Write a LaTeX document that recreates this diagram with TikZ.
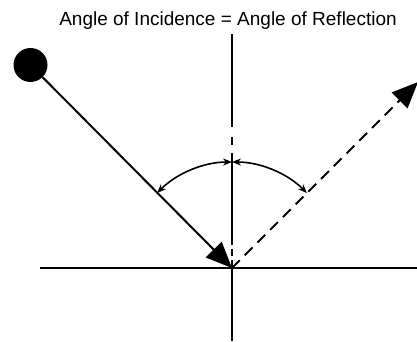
\documentclass[tikz,border=0pt]{standalone}
\usepackage{fontspec}
\setmainfont{Liberation Sans}
\usepackage{tikz}
\usetikzlibrary{arrows.meta,calc}

\begin{document}
\begin{tikzpicture}[x=1pt, y=1pt,
  ray/.style={line width=2pt},
  raydash/.style={line width=2pt, dash pattern=on 11pt off 7pt},
  bigtip/.style={-{Triangle[length=26pt, width=22pt]}},
  anglearc/.style={line width=1.6pt, {Stealth[length=9pt, width=7pt]}-{Stealth[length=9pt, width=7pt]}}]

%% ── Frame (417 x 341) ─────────────────────────────────────────────────────────
\useasboundingbox (0,0) rectangle (417,341);

%% ── Key points ────────────────────────────────────────────────────────────────
\coordinate (hit)   at (232,73);   % point of incidence
\coordinate (refl)  at (418,259);  % end of reflected ray
\coordinate (surfL) at (40,73);
\coordinate (surfR) at (417,73);
\coordinate (nTop)  at (232,307);
\coordinate (nBot)  at (232,0);

%% ── Title ─────────────────────────────────────────────────────────────────────
\node[anchor=base, font=\fontsize{19}{22}\selectfont, inner sep=0pt]
  (title) at (228,316) {Angle of Incidence = Angle of Reflection};

%% ── Surface ───────────────────────────────────────────────────────────────────
\draw[ray] (surfL) -- (surfR);

%% ── Normal ────────────────────────────────────────────────────────────────────
\draw[ray] (nTop) -- (232,214);
\draw[ray] (232,204) -- (232,196);
\draw[ray] (232,188) -- (232,103);
\draw[line width=2pt, dash pattern=on 7pt off 4pt] (232,103) -- (hit);
\draw[ray] (hit) -- (nBot);

%% ── Ball and incident ray ─────────────────────────────────────────────────────
\node[circle, fill=black, minimum size=34pt, inner sep=0pt] (ball) at (30.5,276) {};
\draw[ray, bigtip] (ball) -- (hit);

%% ── Reflected ray ─────────────────────────────────────────────────────────────
\draw[raydash, bigtip] (hit) -- (refl);

%% ── Angle arcs ────────────────────────────────────────────────────────────────
\draw[anglearc] ($(hit)+(135:106)$) arc[start angle=135, end angle=90, radius=106];
\draw[anglearc] ($(hit)+(90:106)$) arc[start angle=90, end angle=45, radius=106];

\end{tikzpicture}
\end{document}
